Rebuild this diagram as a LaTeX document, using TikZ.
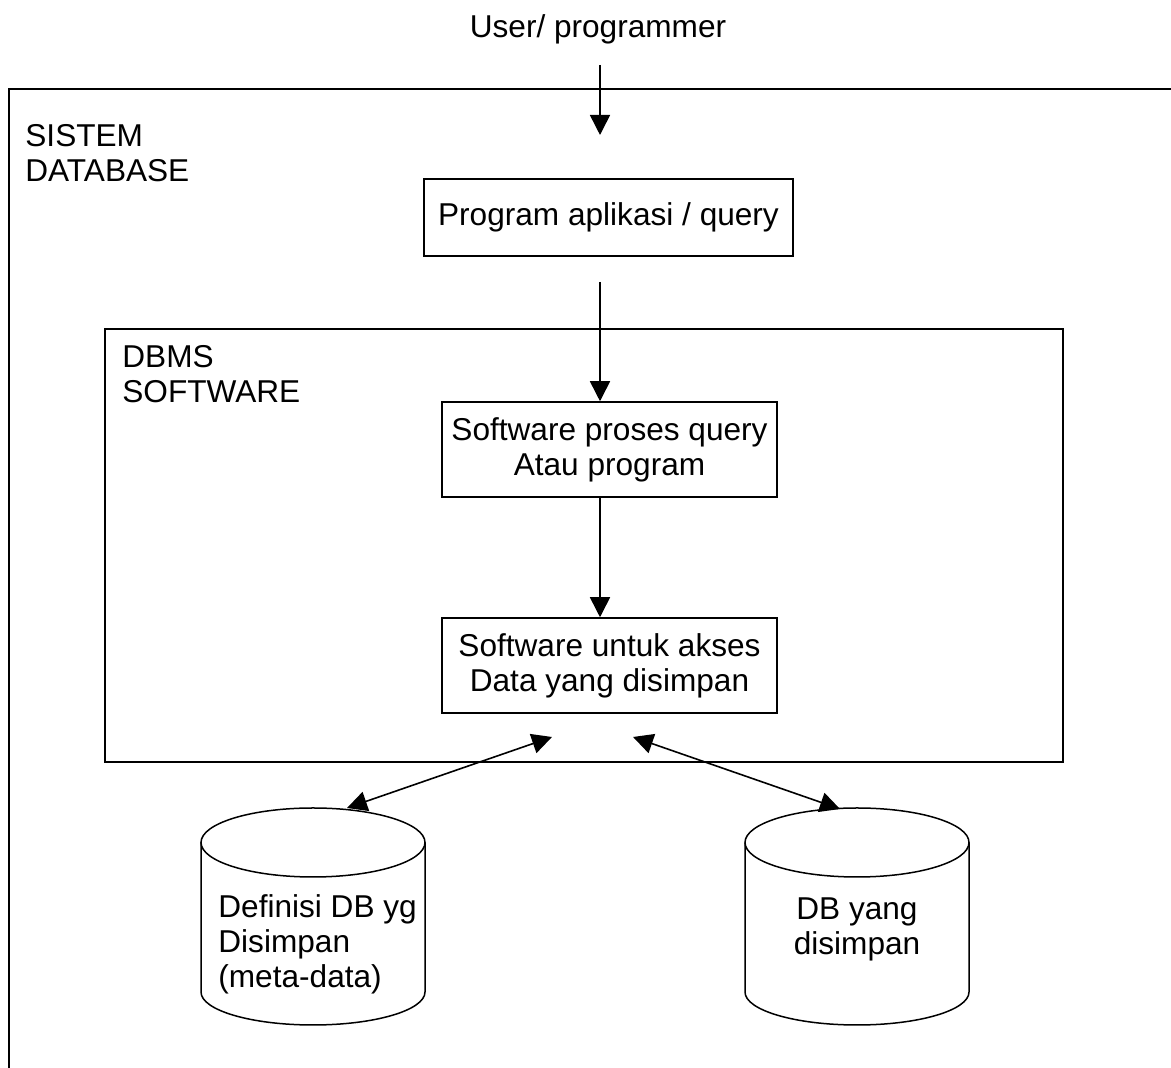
\documentclass[tikz,border=0pt]{standalone}
\usepackage{fontspec}
\setmainfont{Liberation Sans}
\usetikzlibrary{arrows.meta}
\begin{document}
\begin{tikzpicture}[x=0.5pt,y=0.5pt,
  txt/.style={font=\fontsize{15.8}{17.5}\selectfont, inner sep=0pt},
  box/.style={draw, line width=0.75pt, txt, align=center},
  arr/.style={line width=0.8pt, -{Triangle[length=10pt,width=10pt]}},
  darr/.style={line width=0.8pt, {Triangle[length=10pt,width=10pt]}-{Triangle[length=10pt,width=10pt]}},
  cyl/.style={line width=0.75pt}
]
\useasboundingbox (0,0) rectangle (1171,1068);
% outer frame (open)
\draw[line width=1pt] (9,0) -- (9,979) -- (1171,979);
\node[txt, anchor=base] (user) at (598,1030) {User/ programmer};
\node[txt, anchor=north west, align=left] (sys) at (25,944) {SISTEM\\DATABASE};
\coordinate (u1) at (600,1003);
\coordinate (u2) at (600,933);
\draw[arr] (u1) -- (u2);
\node[box, minimum width=184.5pt, minimum height=38.5pt] (b1) at (608.5,850.5) {Program aplikasi / query};
% DBMS box
\node[draw, line width=0.75pt, minimum width=479pt, minimum height=216.5pt, inner sep=0pt] (dbms) at (584,522.5) {};
\node[txt, anchor=north west, align=left] (dbmst) at (122,723) {DBMS\\SOFTWARE};
\node[box, minimum width=167.5pt, minimum height=47.5pt] (b2) at (609.5,618.5) {Software proses query\\Atau program};
\node[box, minimum width=167.5pt, minimum height=47.5pt] (b3) at (609.5,402.5) {Software untuk akses\\Data yang disimpan};
\coordinate (a2) at (600,786);
\draw[arr] (a2) -- (a2 |- b2.north);
\draw[arr] (b2.south -| a2) -- (b3.north -| a2);
% cylinders
\draw[cyl] (201,225.5) -- (201,76) arc[start angle=180, end angle=360, x radius=112, y radius=33] -- (425,225.5);
\draw[cyl] (313,225.5) ellipse[x radius=112, y radius=34.5];
\draw[cyl] (745,225.5) -- (745,76) arc[start angle=180, end angle=360, x radius=112, y radius=33] -- (969,225.5);
\draw[cyl] (857,225.5) ellipse[x radius=112, y radius=34.5];
\node[txt, anchor=north west, align=left] (c1) at (218,174) {Definisi DB yg\\Disimpan\\(meta-data)};
\node[txt, anchor=north, align=center] (c2) at (857,171) {DB yang\\disimpan};
% double arrows
\coordinate (l1) at (552,331);
\coordinate (l2) at (347,260);
\coordinate (r1) at (633,331);
\coordinate (r2) at (840,259);
\draw[darr] (l1) -- (l2);
\draw[darr] (r1) -- (r2);
\end{tikzpicture}
\end{document}
